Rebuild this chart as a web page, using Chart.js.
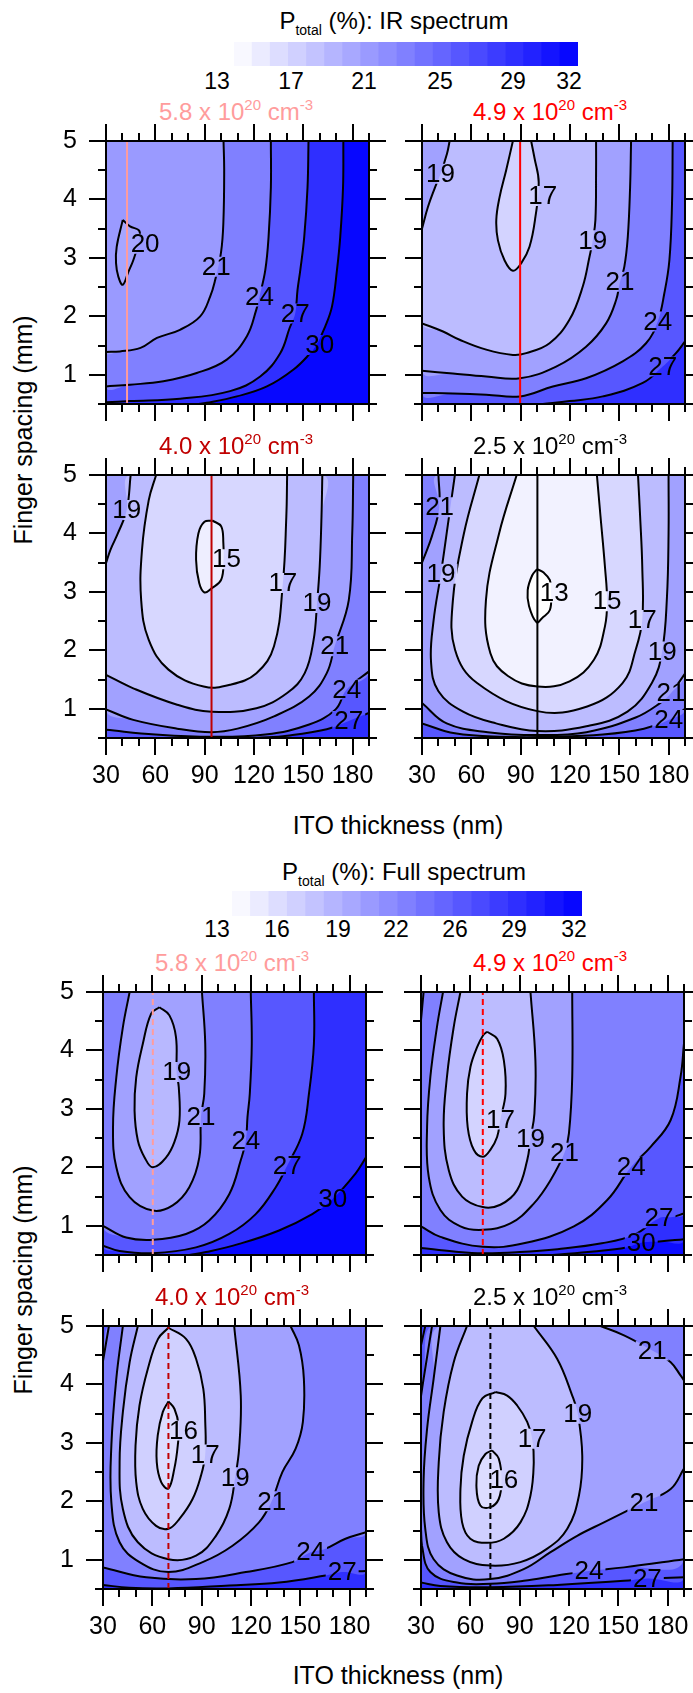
<!DOCTYPE html>
<html><head><meta charset="utf-8">
<script src="https://cdn.jsdelivr.net/npm/chart.js@4.4.1/dist/chart.umd.min.js"></script>
<style>
html,body{margin:0;padding:0;background:#fff;}
#page{position:relative;width:693px;height:1693px;overflow:hidden;font-family:"Liberation Sans",Arial,sans-serif;color:#000;}
.abs{position:absolute;white-space:nowrap;line-height:1;}
.sup{position:relative;font-size:15px;top:-10px;}
.sub{position:relative;font-size:14px;top:6px;}
canvas{display:block;}
</style></head><body><div id="page"></div>
<script>
// ---------------- DATA ----------------
const xMajor = [30, 60, 90, 120, 150, 180];
const xMinor = [40, 50, 70, 80, 100, 110, 130, 140, 160, 170, 190];
const yMajor = [1, 2, 3, 4, 5];
const yMinor = [0.5, 1.5, 2.5, 3.5, 4.5];
const cbSteps = [13,14,15,16,17,18,19,20,21,22,23,24,25,26,27,28,29,30,31];
const cbIrTicks = [13, 17, 21, 25, 29, 32];
const cbFullTicks = [13, 16, 19, 22, 26, 29, 32];
const dopings = ['5.8', '4.9', '4.0', '2.5'];
const markerIR = [42.8, 89.7, 94.2, 100.2];
const markerFull = [60.3, 67.6, 69.8, 72.2];

// IR spectrum, 5.8e20
const ir58_20 = [[40.2,3.65],[44.6,3.54],[50.3,3.46],[49.7,3.25],[46.6,2.96],[43.6,2.76],[40.2,2.54],[37.5,2.68],[36.1,2.91],[36.5,3.19],[40.2,3.65]];
const ir58_21 = [[101.5,5],[101.9,4.5],[101.4,3.6],[100,3.1],[96.4,2.62],[93.4,2.34],[87.3,2.0],[75,1.77],[61,1.63],[51,1.46],[38.5,1.4],[30,1.39]];
const ir58_24 = [[130.3,5],[130.3,4.21],[128.9,3.36],[126.9,2.79],[123.4,2.34],[121.4,2.11],[115.7,1.66],[103.5,1.26],[85.2,1.03],[64.9,0.89],[44.6,0.83],[30,0.8]];
const ir58_27 = [[153.2,5],[152.6,4.21],[150.6,3.36],[148.2,2.79],[146.5,2.45],[145.1,2.05],[141.7,1.8],[136,1.37],[123.8,0.97],[105.5,0.72],[75.1,0.59],[44.6,0.55],[30,0.53]];
const ir58_30 = [[174.4,5],[174.2,4.21],[172.5,3.36],[170.5,2.79],[167.5,2.17],[163.4,1.83],[158,1.51],[154.3,1.37],[144.1,1.09],[127.9,0.8],[109.6,0.63],[91.3,0.52],[85.2,0.5]];
const ir58Lab = [[20,53.8,3.24],[21,97,2.85],[24,123.4,2.34],[27,145.1,2.05],[30,160,1.51]];

// IR spectrum, 4.9e20
const ir49_19a = [[46.8,5],[45.2,4.78],[41.3,4.44],[37.7,4.19],[33.6,3.87],[30,3.5]];
const ir49_17 = [[85.3,5],[81.2,4.5],[77.2,4.04],[75.2,3.65],[76.2,3.3],[80.2,2.96],[85.3,2.78],[90.4,2.91],[95.4,3.19],[99,3.7],[101,4.3],[98.5,4.7],[96.4,5]];
const ir49_19b = [[135.9,5],[135.9,4.5],[135.5,3.65],[133.9,3.3],[131.9,3.02],[127.8,2.51],[119.7,1.94],[107.6,1.54],[93.4,1.37],[85.3,1.34],[69.1,1.43],[52.9,1.6],[42.8,1.74],[30,1.88]];
const ir49_21 = [[157.2,5],[156.6,4.21],[155.2,3.36],[153.1,2.85],[150.5,2.59],[148.1,2.28],[142,1.88],[129.8,1.48],[111.6,1.14],[89.7,0.94],[69.1,0.97],[48.8,1.02],[30,1.07]];
const ir49_24 = [[182.5,5],[182.1,3.93],[180.5,2.96],[177.4,2.39],[173.4,1.91],[166.3,1.54],[152.1,1.23],[129.8,0.94],[109.6,0.8],[89.7,0.63],[69.1,0.66],[48.8,0.68],[30,0.69]];
const ir49_27 = [[190,1.57],[184.5,1.37],[176.4,1.14],[164.3,0.86],[140,0.63],[119.7,0.55],[103.5,0.5]];
const ir49Lab = [[19,41.3,4.44],[17,103.5,4.06],[19,133.9,3.3],[21,150.5,2.59],[24,173.4,1.91],[27,176.4,1.14]];

// IR spectrum, 4.0e20
const ir40_19a = [[45,5],[42.6,4.4],[37.2,4.0],[32.7,3.72],[30,3.49]];
const ir40_15 = [[94.8,4.22],[100.1,4.12],[101.4,3.83],[101.5,3.56],[100.1,3.21],[94.2,3.06],[89.9,2.99],[86.7,3.15],[84.8,3.55],[86.2,4.0],[89.9,4.2],[94.8,4.22]];
const ir40_17 = [[60.5,5],[56,4.57],[51.9,3.72],[51.4,2.86],[56,2.18],[68,1.67],[89.4,1.38],[105.5,1.41],[121.5,1.61],[132.2,2.07],[137.6,3.15],[139.7,4.29],[140.2,5]];
const ir40_19b = [[30,1.58],[46.6,1.35],[73.3,1.07],[94.2,0.95],[121.5,1.01],[140.2,1.27],[150.9,1.61],[156.3,2.18],[158.4,2.81],[160,3.43],[161.1,4.29],[161.6,5]];
const ir40_21 = [[180.4,5],[179.8,4.0],[177.7,2.86],[169.1,2.07],[164.3,1.61],[153.6,1.21],[132.2,0.87],[110,0.66],[94.2,0.6],[73.3,0.66],[46.6,0.81],[30,0.99]];
const ir40_24 = [[30,0.64],[60,0.56],[94.2,0.52],[126.9,0.56],[153.6,0.73],[169.7,0.99],[176.4,1.33],[190,1.64]];
const ir40_27 = [[190,0.93],[177.7,0.79],[164.3,0.65],[140.2,0.54],[121.5,0.5]];
const ir40Lab = [[19,42.6,4.4],[15,103.3,3.56],[17,137.6,3.15],[19,158.4,2.81],[21,169.1,2.07],[24,176.4,1.33],[27,177.7,0.79]];

// IR spectrum, 2.5e20
const ir25_13 = [[100,3.39],[104,3.33],[107.8,3.2],[108.5,2.99],[107.8,2.69],[103,2.55],[99.7,2.48],[95.1,2.76],[94.3,3.03],[97,3.28],[100,3.39]];
const ir25_15 = [[87.6,5],[76.9,4.0],[68.9,2.86],[71.6,1.95],[82.3,1.56],[100.2,1.38],[119.8,1.47],[134.6,1.84],[141.3,2.41],[142.6,2.84],[141.3,3.43],[138.6,4.29],[136.4,5]];
const ir25_17 = [[64.9,5],[55.5,4.0],[48.8,2.86],[50.1,2.01],[63.5,1.44],[100.2,0.96],[130.5,1.04],[152,1.44],[160,2.01],[164,2.52],[164,3.43],[162.7,4.29],[161.4,5]];
const ir25_19 = [[50,5],[45,4.0],[41.5,3.31],[37,2.5],[35.5,1.8],[40,1.3],[55,0.95],[75,0.75],[100,0.62],[130,0.7],[155,0.95],[170,1.45],[176.1,1.98],[179,2.9],[180,4],[180,5]];
const ir25_21a = [[40,5],[40.5,4.45],[36,3.95],[30,3.5]];
const ir25_21b = [[30,1.1],[45,0.75],[70,0.6],[100,0.55],[130,0.6],[160,0.85],[175,1.1],[181.5,1.27],[190,1.6]];
const ir25_24 = [[30,0.75],[50,0.58],[80,0.52],[110,0.52],[140,0.56],[165,0.66],[180,0.81],[190,1.0]];
const ir25Lab = [[21,40.7,4.45],[19,41.5,3.31],[13,110.4,2.99],[15,142.6,2.84],[17,164,2.52],[19,176.1,1.98],[21,181.5,1.27],[24,180.1,0.81]];

// Full spectrum, 5.8e20
const fu58_19 = [[64.3,4.74],[70.4,4.6],[74.4,4.23],[74.8,3.63],[76.1,3.37],[76.5,2.8],[73.4,2.43],[68.4,2.17],[60.3,2.0],[55.3,2.17],[51.2,2.46],[49.2,2.97],[50.2,3.54],[54.2,4.11],[59.3,4.63],[64.3,4.74]];
const fu58_21 = [[46.2,5],[42.1,4.4],[38.1,3.54],[36.1,2.69],[38.1,2.0],[46.2,1.49],[60.3,1.26],[72.4,1.35],[82.5,1.66],[88.6,2.17],[89.6,2.86],[91.6,3.26],[92.2,4.11],[90.2,5]];
const fu58_24 = [[119.9,5],[120.5,4.11],[119.3,3.26],[117.9,2.86],[116.9,2.46],[113.8,2.12],[106.8,1.54],[94.6,1.09],[80.5,0.86],[60.3,0.76],[44.1,0.8],[30,1.0]];
const fu58_27 = [[158.3,5],[158.3,4.11],[155.3,3.26],[151.2,2.57],[142.1,2.03],[135.1,1.66],[122.9,1.2],[106.8,0.86],[86.6,0.63],[60.3,0.53],[40.1,0.57],[30,0.66]];
const fu58_30 = [[190,2.17],[183.5,1.89],[169.8,1.46],[157.3,1.2],[137.1,0.92],[112.8,0.69],[92.6,0.55],[82.5,0.5]];
const fu58Lab = [[19,74.8,3.63],[21,89.6,2.86],[24,116.9,2.46],[27,142.1,2.03],[30,169.8,1.46]];

// Full spectrum, 4.9e20
const fu49_17 = [[70.2,4.32],[76.3,4.2],[80.4,3.83],[81.4,3.26],[78.3,2.82],[76.3,2.52],[72.2,2.3],[67.6,2.18],[62.1,2.3],[58.4,2.69],[58,3.26],[60.1,3.72],[64.2,4.06],[67.8,4.26],[70.2,4.32]];
const fu49_19 = [[54,5],[49.9,4.4],[45.8,3.55],[43.8,2.69],[46.9,1.95],[55,1.5],[67.6,1.32],[78.3,1.36],[88.5,1.61],[94.6,2.12],[96.6,2.49],[99,2.92],[99.6,3.83],[96.6,5]];
const fu49_21 = [[43.4,5],[39.7,4.4],[35.7,3.55],[33.7,2.69],[34.7,1.84],[41.8,1.27],[54,0.99],[67.6,0.93],[84.4,1.04],[98.6,1.38],[108.8,1.78],[117.3,2.25],[120,2.58],[122,3.55],[122,5]];
const fu49_24 = [[30,0.99],[41.8,0.81],[67.6,0.64],[92.5,0.7],[123,0.99],[143.3,1.44],[157.9,2.01],[169.7,2.35],[181.9,2.81],[187.9,3.55],[190,4.12]];
const fu49_24b = [[31.6,5],[30,4.52]];
const fu49_27 = [[30,0.62],[50,0.56],[67.6,0.53],[90,0.55],[113,0.6],[140,0.7],[160,0.85],[174.8,1.13],[183,1.15],[190,1.21]];
const fu49_30 = [[110,0.5],[135,0.56],[155,0.63],[164,0.71],[175,0.73],[190,0.77]];
const fu49Lab = [[17,78.3,2.82],[19,96.6,2.49],[21,117.3,2.25],[24,157.9,2.01],[27,174.8,1.13],[30,164,0.71]];

// Full spectrum, 4.0e20
const fu40_16 = [[69.8,3.71],[73.5,3.58],[76,3.3],[75.5,2.96],[73.4,2.56],[69.8,2.22],[65.4,2.33],[62.7,2.67],[63.3,3.13],[66.4,3.53],[69.8,3.71]];
const fu40_17 = [[69.8,4.97],[80.5,4.78],[86.6,4.44],[91,3.93],[92.2,3.36],[92.2,2.8],[89.6,2.44],[84.5,2.04],[76.5,1.7],[69.8,1.53],[62.3,1.58],[54.2,1.87],[50.2,2.33],[49.8,2.96],[52.2,3.64],[57.3,4.27],[63.5,4.78],[69.8,4.97]];
const fu40_19 = [[51.2,5],[46.2,4.38],[42.1,3.53],[40.1,2.67],[42.1,1.87],[51.2,1.3],[69.8,1.01],[86.6,1.07],[98.7,1.41],[106.8,1.87],[110.4,2.41],[112.8,2.9],[113.8,3.81],[109.8,5]];
const fu40_21 = [[42.1,5],[38.1,4.1],[35.1,2.96],[35.1,1.98],[40.1,1.3],[52.2,0.96],[69.8,0.79],[90.6,0.96],[108.8,1.24],[124.9,1.64],[132.6,2.0],[139.1,2.5],[147.2,2.9],[151.6,3.36],[152.2,4.1],[149.2,4.67],[144.1,5]];
const fu40_24 = [[30,0.87],[56.3,0.7],[86.6,0.67],[116.9,0.79],[145.2,0.96],[156.3,1.13],[165.4,1.19],[177.5,1.36],[190,1.47]];
const fu40_24b = [[33.6,5],[30,4.4]];
const fu40_27 = [[30,0.57],[46,0.52],[69.8,0.51],[106.8,0.56],[137.1,0.61],[165.4,0.73],[175.5,0.79],[190,0.81]];
const fu40Lab = [[16,78.9,3.21],[17,92.2,2.8],[19,110.4,2.41],[21,132.6,2.0],[24,156.3,1.13],[27,175.5,0.79]];

// Full spectrum, 2.5e20
const fu25_16 = [[73.2,2.87],[77.3,2.73],[79,2.36],[77.3,2.04],[72.2,1.9],[66.1,1.93],[63.7,2.27],[65.1,2.61],[69.2,2.81],[73.2,2.87]];
const fu25_17 = [[75.3,3.87],[82.4,3.81],[88.5,3.64],[94.6,3.36],[97.6,3.07],[98.6,2.67],[96.6,2.1],[90.5,1.64],[80.4,1.36],[70.2,1.29],[60,1.36],[55,1.64],[54,2.21],[56,2.78],[61.1,3.36],[67.3,3.76],[75.3,3.87]];
const fu25_19 = [[58,5],[49.9,4.38],[43.8,3.53],[40.8,2.67],[40.8,1.81],[45.8,1.3],[56,1.01],[72.2,0.9],[90.5,0.96],[106.8,1.19],[119,1.53],[126.1,2.1],[128.1,2.78],[125.4,3.5],[122,3.81],[112.8,4.44],[98.6,5]];
const fu25_21 = [[190,2.56],[181.9,2.21],[165.6,1.98],[153.5,1.81],[141.3,1.64],[125,1.41],[108.8,1.13],[92.5,0.84],[72.2,0.67],[51.9,0.73],[37.7,1.01],[32.6,1.53],[31.6,2.38],[33.7,3.24],[37.7,4.1],[41.8,5]];
const fu25_21b = [[139.2,5],[153.5,4.84],[170.7,4.58],[181.9,4.38],[188,4.15],[190,4.07]];
const fu25_24 = [[30,1.53],[30.6,1.24],[35.7,0.79],[51.9,0.61],[72.2,0.59],[92.5,0.64],[112.8,0.73],[132.2,0.81],[153.5,0.87],[190,1.01]];
const fu25_24b = [[36.7,5],[31.6,4.1],[30,3.8]];
const fu25_27 = [[30,0.61],[41.8,0.55],[72.2,0.53],[112.8,0.57],[153.5,0.64],[167.7,0.68],[190,0.7]];
const fu25_27b = [[32.6,5],[30,4.67]];
const fu25Lab = [[21,170.7,4.58],[19,125.4,3.5],[17,97.6,3.07],[16,80.4,2.36],[21,165.6,1.98],[24,132.2,0.81],[27,167.7,0.68]];

// axis-limit corners (data coordinates)
const TL = [30,5], TR = [190,5], BL = [30,0.5], BR = [190,0.5];

// ---------------- HELPERS ----------------
function col(v){const t=Math.max(0,Math.min(1,(v-13)/19));const c=Math.round(255*(1-t));return 'rgb('+c+','+c+',255)';}
function rev(a){return a.slice().reverse();}
function poly(parts){const out=[];parts.forEach(p=>{if(Array.isArray(p[0]))p.forEach(q=>out.push(q));else out.push(p);});return out;}
const xy = a => a.map(p=>({x:p[0],y:p[1]}));

const panels = [
 {dop:0, marker:markerIR[0], dash:false, bg:31.5,
  fills:[[28.5,[ir58_30,BL,TL]],[25.5,[ir58_27,TL]],[22.5,[ir58_24,TL]],[20.5,[ir58_21,TL]],[19.6,[ir58_20]]],
  lines:[ir58_20,ir58_21,ir58_24,ir58_27,ir58_30], labels:ir58Lab},
 {dop:1, marker:markerIR[1], dash:false, bg:28.5,
  fills:[[25.5,[ir49_27,BL,TL,TR]],[22.5,[ir49_24,TL]],[20,[ir49_21,TL]],[18,[ir49_19b,rev(ir49_19a)]],[16.3,[ir49_17]]],
  lines:[ir49_19a,ir49_17,ir49_19b,ir49_21,ir49_24,ir49_27], labels:ir49Lab},
 {dop:2, marker:markerIR[2], dash:false, bg:28.5,
  fills:[[25.5,[ir40_27,BL,TL,TR]],[22.5,[ir40_24,TR,TL]],[20,[ir40_21,TL]],[18,[ir40_19b,ir40_19a]],[16,[ir40_17]],[14.3,[ir40_15]]],
  lines:[ir40_19a,ir40_15,ir40_17,ir40_19b,ir40_21,ir40_24,ir40_27], labels:ir40Lab},
 {dop:3, marker:markerIR[3], dash:false, bg:25.5,
  fills:[[22.5,[ir25_24,TR,TL]],[20,[ir25_21b,TR,ir25_21a]],[18,[ir25_19]],[16,[ir25_17]],[14,[ir25_15]],[12.5,[ir25_13]]],
  lines:[ir25_13,ir25_15,ir25_17,ir25_19,ir25_21a,ir25_21b,ir25_24], labels:ir25Lab},
 {dop:0, marker:markerFull[0], dash:true, bg:31.5,
  fills:[[28.5,[fu58_30,BL,TL,TR]],[25.5,[fu58_27,TL]],[22.5,[fu58_24,TL]],[20,[fu58_21]],[18.3,[fu58_19]]],
  lines:[fu58_19,fu58_21,fu58_24,fu58_27,fu58_30], labels:fu58Lab},
 {dop:1, marker:markerFull[1], dash:true, bg:31,
  fills:[[28.5,[fu49_30,TR,TL,BL]],[25.5,[fu49_27,TR,TL]],[22.5,[fu49_24,TR,fu49_24b]],[20,[fu49_21]],[18,[fu49_19]],[16.3,[fu49_17]]],
  lines:[fu49_17,fu49_19,fu49_21,fu49_24,fu49_24b,fu49_27,fu49_30], labels:fu49Lab},
 {dop:2, marker:markerFull[2], dash:true, bg:28.5,
  fills:[[25.5,[fu40_27,TR,TL]],[22.5,[fu40_24,TR,fu40_24b]],[20,[fu40_21]],[18,[fu40_19]],[16.5,[fu40_17]],[15.5,[fu40_16]]],
  lines:[fu40_16,fu40_17,fu40_19,fu40_21,fu40_24,fu40_24b,fu40_27], labels:fu40Lab},
 {dop:3, marker:markerFull[3], dash:true, bg:28.5,
  fills:[[25.5,[fu25_27,TR,fu25_27b]],[22.5,[fu25_24,TR,fu25_24b]],[20,[fu25_21,fu25_21b]],[18,[fu25_19]],[16.5,[fu25_17]],[15.5,[fu25_16]]],
  lines:[fu25_16,fu25_17,fu25_19,fu25_21,fu25_21b,fu25_24,fu25_24b,fu25_27,fu25_27b], labels:fu25Lab}
];

// ---------------- LAYOUT / STYLE ----------------
const FONT = '"Liberation Sans", Arial, sans-serif';
const NARROW = '"Liberation Sans Narrow", "Arial Narrow", "Liberation Sans", Arial, sans-serif';
const LABEL_FONT = '26px ' + NARROW;
Chart.defaults.font.family = FONT;
Chart.defaults.color = '#000';
const DOP_COL = ['#ff9c9c', '#ff0000', '#c00000', '#000000'];
const PANEL_POS = [[106,141],[422,141],[106,475],[422,475],[103,992],[421,992],[103,1326],[421,1326]];
const PW = 263, PH = 263, ML = 50, MR = 24, MT = 22, MB = 62;
const page = document.getElementById('page');

function addText(html, cx, baseline, size, color){
  const d = document.createElement('div');
  d.className = 'abs';
  d.innerHTML = html;
  d.style.fontSize = size + 'px';
  d.style.left = cx + 'px';
  d.style.top = (baseline - 0.8465*size) + 'px';
  d.style.transform = 'translateX(-50%)';
  if (color) d.style.color = color;
  page.appendChild(d);
  return d;
}

const bgPlugin = {id:'panelbg', beforeDatasetsDraw(c, a, o){const r=c.chartArea;c.ctx.save();c.ctx.fillStyle=col(o.value);c.ctx.fillRect(r.left,r.top,r.right-r.left,r.bottom-r.top);c.ctx.restore();}};
function labelBoxes(c, items){
  const ctx=c.ctx, xs=c.scales.x, ys=c.scales.y;
  ctx.save(); ctx.font=LABEL_FONT;
  const out = items.map(([v,x,y])=>{const w=ctx.measureText(String(v)).width;return [String(v), xs.getPixelForValue(x), ys.getPixelForValue(y), w];});
  ctx.restore();
  return out;
}
const labelPlugin = {id:'clabels',
  beforeDatasetDraw(c, args, o){
    const ds=c.data.datasets[args.index];
    if(!ds.contour) return;
    const ctx=c.ctx; ctx.save();
    ctx.beginPath(); ctx.rect(0,0,c.width,c.height);
    labelBoxes(c, o.items||[]).forEach(([t,px,py,w])=>{ctx.rect(px-w/2-2, py-10, w+4, 20);});
    ctx.clip('evenodd');
  },
  afterDatasetDraw(c, args){ if(c.data.datasets[args.index].contour) c.ctx.restore(); },
  afterDatasetsDraw(c, a, o){
    const ctx=c.ctx;
    const boxes = labelBoxes(c, o.items||[]);
    ctx.save(); ctx.font=LABEL_FONT; ctx.textAlign='center'; ctx.textBaseline='middle'; ctx.fillStyle='#000';
    boxes.forEach(([t,px,py])=>ctx.fillText(t, px, py+1));
    ctx.restore();
  }};
const framePlugin = {id:'frame', afterDraw(c){
  const ctx=c.ctx, r=c.chartArea, xs=c.scales.x, ys=c.scales.y;
  ctx.save(); ctx.strokeStyle='#000'; ctx.lineWidth=2; ctx.lineCap='butt';
  ctx.strokeRect(r.left, r.top, r.right-r.left, r.bottom-r.top);
  ctx.beginPath();
  const tx=(vals,len)=>vals.forEach(v=>{const p=Math.round(xs.getPixelForValue(v));ctx.moveTo(p,r.bottom);ctx.lineTo(p,r.bottom+len);ctx.moveTo(p,r.top);ctx.lineTo(p,r.top-len);});
  const ty=(vals,len)=>vals.forEach(v=>{const p=Math.round(ys.getPixelForValue(v));ctx.moveTo(r.left,p);ctx.lineTo(r.left-len,p);ctx.moveTo(r.right,p);ctx.lineTo(r.right+len,p);});
  tx(xMajor,17); tx(xMinor,8); ty(yMajor,17); ty(yMinor,8);
  ctx.stroke(); ctx.restore();
}};

function buildPanel(p, i){
  const [L,T] = PANEL_POS[i];
  const showX = (i===2||i===3||i===6||i===7), showY = (i%2===0);
  const cv = document.createElement('canvas');
  cv.width = PW+ML+MR; cv.height = PH+MT+MB;
  cv.style.cssText = 'position:absolute;left:'+(L-ML)+'px;top:'+(T-MT)+'px;width:'+cv.width+'px;height:'+cv.height+'px';
  page.appendChild(cv);
  const ds = [];
  p.fills.forEach(([v,parts])=>ds.push({data:xy(poly(parts)), fill:'shape', backgroundColor:col(v), borderColor:'rgba(0,0,0,0)', borderWidth:0, pointRadius:0, tension:0.4}));
  p.lines.forEach(l=>ds.push({data:xy(l), contour:true, fill:false, borderColor:'#000', borderWidth:2, pointRadius:0, tension:0.4}));
  ds.push({data:xy([[p.marker,0.5],[p.marker,5]]), fill:false, borderColor:DOP_COL[p.dop], borderWidth:2, borderDash:p.dash?[6,4]:[], pointRadius:0, tension:0});
  ds.forEach((d,k)=>{d.order = ds.length-k;});
  const fitX = s=>{s.height=MB; s.paddingLeft=s.paddingRight=s.paddingTop=s.paddingBottom=0;};
  const fitY = s=>{s.width=ML; s.paddingLeft=s.paddingRight=s.paddingTop=s.paddingBottom=0;};
  new Chart(cv, {type:'line', data:{datasets:ds},
    options:{responsive:false, animation:false, devicePixelRatio:1, events:[],
      layout:{padding:{top:MT,right:MR,left:0,bottom:0}},
      plugins:{legend:{display:false}, tooltip:{enabled:false}, panelbg:{value:p.bg}, clabels:{items:p.labels}},
      scales:{
        x:{type:'linear', min:30, max:190, position:'bottom',
           afterBuildTicks:s=>{s.ticks=xMajor.map(v=>({value:v}));}, afterFit:fitX,
           grid:{display:false, drawTicks:false}, border:{display:false},
           ticks:{display:showX, padding:23, color:'#000', font:{size:25}, maxRotation:0, autoSkip:false}},
        y:{type:'linear', min:0.5, max:5, position:'left',
           afterBuildTicks:s=>{s.ticks=yMajor.map(v=>({value:v}));}, afterFit:fitY,
           grid:{display:false, drawTicks:false}, border:{display:false},
           ticks:{display:showY, padding:29, color:'#000', font:{size:25}, autoSkip:false}}
      }},
    plugins:[bgPlugin, framePlugin, labelPlugin]});
}

function buildColorbar(x, y, w, h){
  const cv = document.createElement('canvas');
  cv.width = w; cv.height = h;
  cv.style.cssText = 'position:absolute;left:'+x+'px;top:'+y+'px;width:'+w+'px;height:'+h+'px';
  page.appendChild(cv);
  new Chart(cv, {type:'bar', data:{labels:cbSteps.map(String), datasets:[{data:cbSteps.map(()=>1), backgroundColor:cbSteps.map(v=>col(v+0.5)), borderWidth:0, barPercentage:1, categoryPercentage:1}]},
    options:{responsive:false, animation:false, devicePixelRatio:1, events:[], layout:{padding:0},
      plugins:{legend:{display:false}, tooltip:{enabled:false}},
      scales:{x:{display:false}, y:{display:false, min:0, max:1}}}});
}

// ---------------- BUILD ----------------
addText('P<span class="sub">total</span> (%): IR spectrum', 394, 29, 24);
buildColorbar(234, 42, 344, 24);
const irTickX = [217, 291, 364, 440, 513, 569];
cbIrTicks.forEach((t,k)=>addText(String(t), irTickX[k], 89, 23));

addText('P<span class="sub">total</span> (%): Full spectrum', 404, 880, 24);
buildColorbar(232, 891, 350, 25);
const fullTickX = [217, 277, 338, 396, 455, 514, 574];
cbFullTicks.forEach((t,k)=>addText(String(t), fullTickX[k], 937, 23));

const TITLE_CX = [236, 550, 236, 550, 232, 550, 232, 550];
panels.forEach((p,i)=>{
  const d = dopings[p.dop];
  addText(d+' x 10<span class="sup">20</span> cm<span class="sup">-3</span>', TITLE_CX[i], PANEL_POS[i][1]-21, 24, DOP_COL[p.dop]);
  buildPanel(p, i);
});

addText('ITO thickness (nm)', 398, 834, 25);
addText('ITO thickness (nm)', 398, 1684, 25);
[430, 1280].forEach(cy=>{
  const d = document.createElement('div');
  d.className='abs'; d.textContent='Finger spacing (mm)';
  d.style.fontSize='25px'; d.style.left='23px'; d.style.top=cy+'px';
  d.style.transform='translate(-50%,-50%) rotate(-90deg)';
  page.appendChild(d);
});
</script></body></html>
